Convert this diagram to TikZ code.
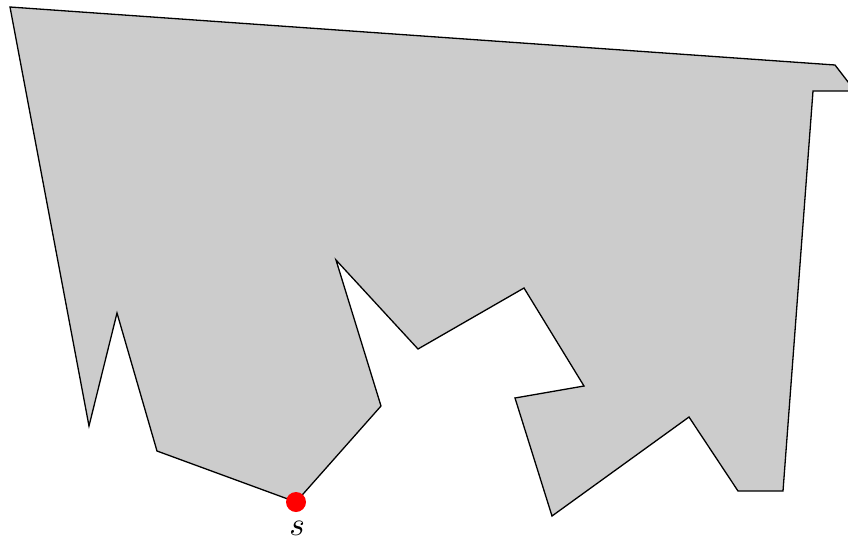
\documentclass[tikz,border=0pt]{standalone}
\usepackage{graphicx}
\begin{document}
\begin{tikzpicture}[x=1pt,y=-1pt,
  poly/.style={draw=black,fill=black!20,line width=1.3pt,line join=miter},
  dot/.style={circle,fill=red,inner sep=0pt,minimum size=20pt}]
\useasboundingbox (0,0) rectangle (848,542);
\begin{scope}
\clip (0,0) rectangle (848,542);
\draw[poly] (10,7) -- (835,65) -- (855,91) -- (813,91) -- (783,491) -- (738,491)
  -- (689,417) -- (552,516) -- (515,398) -- (584,386) -- (524,288) -- (418,349)
  -- (336,260) -- (381,406) -- (296,502) -- (157,451) -- (117,313) -- (89,426) -- cycle;
\end{scope}
\node[dot] (s) at (296,502) {};
\node[inner sep=0pt] (slab) at (297,528) {\scalebox{3.3}{$s$}};
\end{tikzpicture}
\end{document}
